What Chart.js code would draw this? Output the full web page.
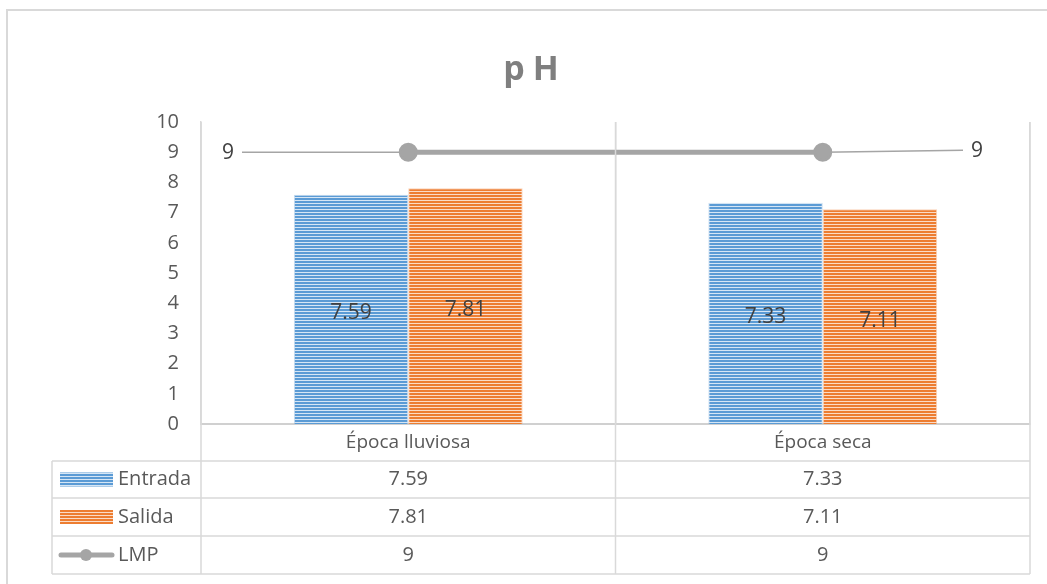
<!DOCTYPE html>
<html><head><meta charset="utf-8">
<script src="https://cdn.jsdelivr.net/npm/chart.js@4.4.1/dist/chart.umd.min.js"></script>
<style>html,body{margin:0;padding:0;background:#fff}#wrap{width:1047px;height:584px;position:relative}</style>
</head><body><div id="wrap"><canvas id="c" width="1047" height="584"></canvas></div>
<script>
const categories = ["Época lluviosa", "Época seca"];
const entrada = [7.59, 7.33];
const salida = [7.81, 7.11];
const lmp = [9, 9];
const seriesNames = ["Entrada", "Salida", "LMP"];
const yTicks = [0,1,2,3,4,5,6,7,8,9,10];
const titleText = "pH";

const FONT = "'Open Sans', sans-serif";
const TXT = "#595959";
const LINE = "#d9d9d9";

function stripe(c1, c2){
  const cv = document.createElement('canvas'); cv.width = 8; cv.height = 3;
  const x = cv.getContext('2d');
  x.fillStyle = c2; x.fillRect(0,0,8,3);
  x.fillStyle = c1; x.fillRect(0,0,8,2);
  return document.getElementById('c').getContext('2d').createPattern(cv,'repeat');
}
const blueP = stripe('#5B9BD5', '#d6e6f5');
const orangeP = stripe('#ED7D31', '#fadcc8');

const extras = {
  id:'extras',
  beforeDraw(chart){
    const ctx = chart.ctx;
    ctx.save();
    ctx.fillStyle='#fff'; ctx.fillRect(0,0,chart.width,chart.height);
    ctx.strokeStyle='#d9d9d9'; ctx.lineWidth=2;
    ctx.beginPath(); ctx.moveTo(7,600); ctx.lineTo(7,10); ctx.lineTo(1060,10); ctx.stroke();
    ctx.fillStyle='#7f7f7f'; ctx.font="bold 34px "+FONT; ctx.textAlign='center'; ctx.textBaseline='middle';
    try{ ctx.letterSpacing='8px'; }catch(e){}
    ctx.fillText(titleText, 535, 70);
    try{ ctx.letterSpacing='0px'; }catch(e){}
    ctx.restore();
  },
  afterDraw(chart){
    const ctx = chart.ctx, ca = chart.chartArea, x = chart.scales.x, y = chart.scales.y;
    ctx.save();
    const L = 52, rows=[ca.bottom, 461, 498, 536, 574];
    ctx.strokeStyle=LINE; ctx.lineWidth=1.5;
    ctx.beginPath();
    for(let i=1;i<rows.length;i++){ ctx.moveTo(L,rows[i]); ctx.lineTo(ca.right,rows[i]); }
    ctx.moveTo(L,rows[1]); ctx.lineTo(L,rows[4]);
    const bounds=[ca.left];
    for(let i=0;i<categories.length;i++){
      const c=x.getPixelForValue(i), nx = i<categories.length-1? x.getPixelForValue(i+1):null;
      bounds.push(nx===null? ca.right : (c+nx)/2);
    }
    bounds.forEach(b=>{ ctx.moveTo(b,ca.top); ctx.lineTo(b,rows[4]); });
    ctx.stroke();
    const vals=[entrada, salida, lmp];
    ctx.font="20px "+FONT; ctx.fillStyle=TXT; ctx.textBaseline='middle';
    for(let r=0;r<3;r++){
      const cy=(rows[r+1]+rows[r+2])/2;
      ctx.textAlign='center';
      for(let i=0;i<categories.length;i++) ctx.fillText(String(vals[r][i]), x.getPixelForValue(i), cy);
      ctx.textAlign='left';
      ctx.fillText(seriesNames[r], 118, cy);
      if(r<2){
        ctx.fillStyle = r===0? blueP : orangeP;
        ctx.fillRect(60, cy-7, 53, 14);
        ctx.fillStyle=TXT;
      } else {
        ctx.strokeStyle='#A5A5A5'; ctx.lineWidth=5; ctx.lineCap='round';
        ctx.beginPath(); ctx.moveTo(61,cy); ctx.lineTo(112,cy); ctx.stroke();
        ctx.fillStyle='#A5A5A5'; ctx.beginPath(); ctx.arc(86,cy,6,0,Math.PI*2); ctx.fill();
        ctx.fillStyle=TXT;
      }
    }
    ctx.font="21px "+FONT; ctx.fillStyle='#404040'; ctx.textAlign='center'; ctx.textBaseline='middle';
    [0,1].forEach(d=>{
      chart.getDatasetMeta(d).data.forEach((el,i)=>{
        const v = chart.data.datasets[d].data[i];
        ctx.fillText(v.toFixed(2), el.x, (el.y+el.base)/2 + 4);
      });
    });
    const lm = chart.getDatasetMeta(2).data;
    const yy = y.getPixelForValue(lmp[0]);
    ctx.strokeStyle='#A5A5A5'; ctx.lineWidth=1.5; ctx.lineCap='butt';
    ctx.beginPath(); ctx.moveTo(242, yy); ctx.lineTo(lm[0].x, lm[0].y); ctx.stroke();
    ctx.beginPath(); ctx.moveTo(lm[1].x, lm[1].y); ctx.lineTo(963, yy-2); ctx.stroke();
    ctx.fillStyle='#A5A5A5';
    lm.forEach(p=>{ ctx.beginPath(); ctx.arc(p.x,p.y,7,0,Math.PI*2); ctx.fill(); });
    ctx.font="21px "+FONT; ctx.fillStyle='#404040';
    ctx.fillText(String(lmp[0]), 228, yy+1);
    ctx.fillText(String(lmp[1]), 977, yy-1);
    ctx.restore();
  }
};

new Chart(document.getElementById('c'), {
  data:{
    labels: categories,
    datasets:[
      {type:'bar', label:seriesNames[0], data:entrada, backgroundColor:blueP, borderColor:'rgba(91,155,213,0.35)', borderWidth:1, categoryPercentage:0.552, barPercentage:1, order:2},
      {type:'bar', label:seriesNames[1], data:salida, backgroundColor:orangeP, borderColor:'rgba(237,125,49,0.35)', borderWidth:1, categoryPercentage:0.552, barPercentage:1, order:2},
      {type:'line', label:seriesNames[2], data:lmp, borderColor:'#A5A5A5', backgroundColor:'#A5A5A5', borderWidth:5, pointRadius:7, pointHoverRadius:7, order:1}
    ]
  },
  options:{
    responsive:false, animation:false, devicePixelRatio:1,
    layout:{padding:{left:0,right:17,top:122,bottom:0}},
    plugins:{legend:{display:false}, title:{display:false}, tooltip:{enabled:false}},
    scales:{
      x:{
        offset:true,
        grid:{display:true, offset:true, color:LINE, lineWidth:1.5, drawTicks:false},
        border:{display:true, color:'#d0d0d0', width:2},
        ticks:{color:TXT, font:{family:FONT, size:19}, padding:7, maxRotation:0},
        afterFit(s){ s.height = 160; }
      },
      y:{
        min:0, max:10,
        afterBuildTicks(s){ s.ticks = yTicks.map(v=>({value:v})); },
        grid:{display:false, drawTicks:false},
        border:{display:true, color:LINE, width:1.5},
        ticks:{color:TXT, font:{family:FONT, size:20}, padding:22, stepSize:1},
        afterFit(s){ s.width = 201; }
      }
    }
  },
  plugins:[extras]
});
</script></body></html>
